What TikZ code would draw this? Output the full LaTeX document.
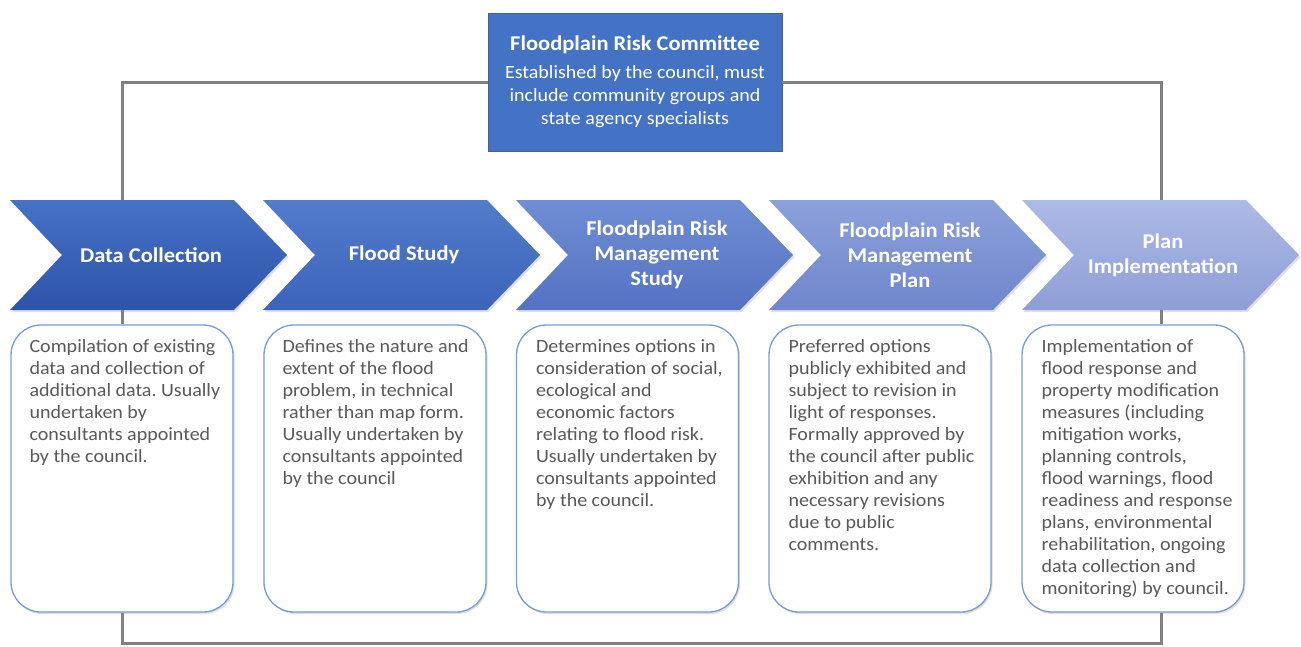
\documentclass[tikz,border=0pt]{standalone}
\usepackage{fontspec}
\setmainfont{Carlito}[FakeStretch=1.07]
\usetikzlibrary{shadows}
\frenchspacing

\definecolor{frcblue}{RGB}{68,114,196}
\definecolor{frcedge}{RGB}{70,95,150}
\definecolor{loopgray}{RGB}{128,128,128}
\definecolor{boxedge}{RGB}{120,155,205}
\definecolor{bodygray}{RGB}{89,89,89}
\definecolor{ch1top}{RGB}{70,114,198}
\definecolor{ch1bot}{RGB}{46,84,170}
\definecolor{ch2top}{RGB}{82,124,204}
\definecolor{ch2bot}{RGB}{60,100,186}
\definecolor{ch3top}{RGB}{112,142,212}
\definecolor{ch3bot}{RGB}{84,114,194}
\definecolor{ch4top}{RGB}{140,160,218}
\definecolor{ch4bot}{RGB}{112,134,204}
\definecolor{ch5top}{RGB}{172,186,230}
\definecolor{ch5bot}{RGB}{142,158,214}

\begin{document}
\begin{tikzpicture}[x=1pt,y=-1pt,
  loopline/.style={draw=loopgray,line width=3pt},
  chevron/.style={drop shadow={shadow xshift=1.5pt,shadow yshift=-2pt,opacity=0.25}},
  chevlabel/.style={text=white,align=center,font=\bfseries\fontsize{21}{25}\selectfont},
  infobox/.style={draw=boxedge,line width=1.3pt,fill=white,rounded corners=30pt,
    minimum width=222pt,minimum height=287pt,
    drop shadow={shadow xshift=1.5pt,shadow yshift=-2pt,opacity=0.25}},
  infotext/.style={anchor=north west,inner sep=0pt,align=left,text=bodygray,
    font=\fontsize{18.7}{22}\selectfont}]

\useasboundingbox (0,0) rectangle (1301,646);

% committee
\node[draw=frcedge,fill=frcblue,text=white,align=center,minimum width=294pt,
  minimum height=138pt,font=\fontsize{18.7}{23}\selectfont] (frc) at (635,82)
  {{\bfseries\fontsize{21}{23}\selectfont Floodplain Risk Committee}\\[5pt]
   Established by the council, must\\include community groups and\\state agency specialists};

% stages
\shade[chevron,top color=ch1top,bottom color=ch1bot]
  (10,200) -- (234,200) -- (287,255) -- (234,310) -- (10,310) -- (62,255) -- cycle;
\shade[chevron,top color=ch2top,bottom color=ch2bot]
  (263,200) -- (487,200) -- (540,255) -- (487,310) -- (263,310) -- (315,255) -- cycle;
\shade[chevron,top color=ch3top,bottom color=ch3bot]
  (516,200) -- (740,200) -- (793,255) -- (740,310) -- (516,310) -- (568,255) -- cycle;
\shade[chevron,top color=ch4top,bottom color=ch4bot]
  (769,200) -- (993,200) -- (1046,255) -- (993,310) -- (769,310) -- (821,255) -- cycle;
\shade[chevron,top color=ch5top,bottom color=ch5bot]
  (1022,200) -- (1246,200) -- (1299,255) -- (1246,310) -- (1022,310) -- (1074,255) -- cycle;

\node[chevlabel] (s1) at (151,255) {Data Collection};
\node[chevlabel] (s2) at (404,255) {Flood Study};
\node[chevlabel] (s3) at (657,255) {Floodplain Risk\\Management\\Study};
\node[chevlabel] (s4) at (910,255) {Floodplain Risk\\Management\\Plan};
\node[chevlabel] (s5) at (1163,255) {Plan\\Implementation};

\coordinate (in1) at (122,200);
\coordinate (out1) at (122,310);
\coordinate (in5) at (1161,200);
\coordinate (out5) at (1161,310);
\coordinate (loopR) at (1161,643);

% descriptions
\node[infobox] (b1) at (122,468.5) {};
\node[infobox] (b2) at (375,468.5) {};
\node[infobox] (b3) at (627.5,468.5) {};
\node[infobox] (b4) at (880,468.5) {};
\node[infobox] (b5) at (1133,468.5) {};

\node[infotext] (t1) at ([xshift=19pt,yshift=-15pt]b1.north west)
  {Compilation of existing\\data and collection of\\additional data. Usually\\undertaken by\\consultants appointed\\by the council.};
\node[infotext] (t2) at ([xshift=19pt,yshift=-15pt]b2.north west)
  {Defines the nature and\\extent of the flood\\problem, in technical\\rather than map form.\\Usually undertaken by\\consultants appointed\\by the council};
\node[infotext] (t3) at ([xshift=20pt,yshift=-15pt]b3.north west)
  {Determines options in\\consideration of social,\\ecological and\\economic factors\\relating to flood risk.\\Usually undertaken by\\consultants appointed\\by the council.};
\node[infotext] (t4) at ([xshift=20pt,yshift=-15pt]b4.north west)
  {Preferred options\\publicly exhibited and\\subject to revision in\\light of responses.\\Formally approved by\\the council after public\\exhibition and any\\necessary revisions\\due to public\\comments.};
\node[infotext] (t5) at ([xshift=20pt,yshift=-15pt]b5.north west)
  {Implementation of\\flood response and\\property modification\\measures (including\\mitigation works,\\planning controls,\\flood warnings, flood\\readiness and response\\plans, environmental\\rehabilitation, ongoing\\data collection and\\monitoring) by council.};

% loop
\draw[loopline] (frc.west) -| (in1);
\draw[loopline] (frc.east) -| (in5);
\draw[loopline] (out1) -- (b1.north);
\draw[loopline] (out5) -- (b5.north -| out5);
\draw[loopline] (b1.south) |- (loopR) -- (b5.south -| loopR);
\end{tikzpicture}
\end{document}
